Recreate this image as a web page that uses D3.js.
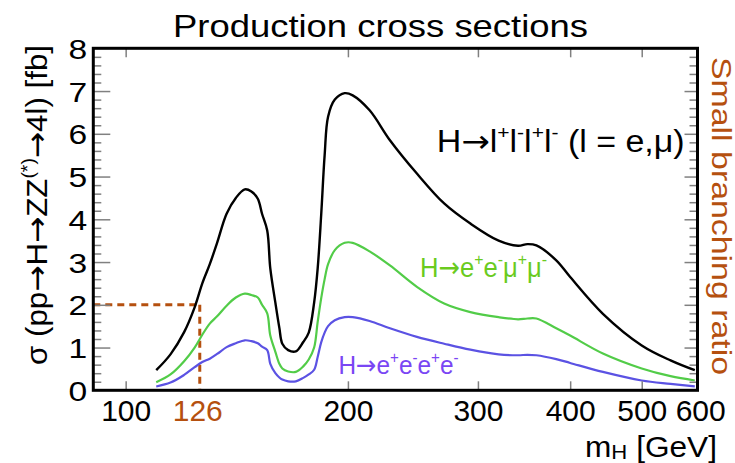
<!DOCTYPE html>
<html>
<head>
<meta charset="utf-8">
<script src="https://cdn.jsdelivr.net/npm/d3@7"></script>
<style>
  html, body { margin: 0; padding: 0; background: #fff; }
  svg { display: block; font-family: "Liberation Sans", Arial, Helvetica, sans-serif; }
</style>
</head>
<body>
<svg id="chart" width="735" height="463"></svg>
<script>
// Higgs boson mass grid [GeV]
const massGeV = [110, 115, 120, 124, 127, 130, 133, 137, 141, 145, 148, 151, 153, 155.5, 157,
  159.5, 161.5, 163, 166, 170, 174, 177, 180, 182, 184, 186, 188, 192, 198, 203, 214, 228,
  248, 270, 293, 320, 340, 350, 360, 383, 400, 443, 500, 547, 590];

// sigma(pp -> H -> ZZ(*) -> 4l) [fb], all four-lepton final states
const sigma4l = [0.47, 0.84, 1.36, 1.94, 2.50, 2.95, 3.45, 4.13, 4.50, 4.70, 4.65, 4.48, 4.13, 3.74, 2.85,
  2.05, 1.46, 1.09, 0.94, 0.91, 1.13, 1.35, 2.05, 2.85, 4.10, 5.50, 6.40, 6.80, 6.95, 6.90, 6.55, 5.85,
  5.07, 4.37, 3.90, 3.50, 3.38, 3.42, 3.39, 3.04, 2.65, 1.79, 1.05, 0.70, 0.47];

// H -> e+ e- mu+ mu-
const sigma2e2mu = [0.19, 0.37, 0.68, 1.00, 1.30, 1.56, 1.73, 1.98, 2.17, 2.26, 2.23, 2.17, 2.00, 1.80, 1.28,
  0.90, 0.62, 0.51, 0.44, 0.43, 0.56, 0.72, 1.00, 1.60, 2.15, 2.60, 2.95, 3.28, 3.45, 3.45, 3.25, 2.92,
  2.42, 2.03, 1.83, 1.71, 1.66, 1.68, 1.68, 1.45, 1.28, 0.86, 0.51, 0.33, 0.23];

// H -> e+ e- e+ e-
const sigma4e = [0.09, 0.18, 0.36, 0.54, 0.66, 0.74, 0.85, 1.01, 1.10, 1.17, 1.15, 1.10, 1.02, 0.94, 0.62,
  0.40, 0.30, 0.25, 0.21, 0.21, 0.29, 0.37, 0.48, 0.78, 1.12, 1.35, 1.50, 1.64, 1.71, 1.71, 1.62, 1.45,
  1.25, 1.09, 0.95, 0.84, 0.82, 0.83, 0.82, 0.73, 0.64, 0.43, 0.23, 0.15, 0.09];

const xTickValues = [100, 200, 300, 400, 500];
const xTickLabels = [100, 200, 300, 400, 500, 600];
const yMajorTicks = [0, 1, 2, 3, 4, 5, 6, 7, 8];
const yMinorTicks = d3.range(0, 8.001, 0.2).filter(v => Math.abs(v - Math.round(v)) > 1e-6);

const markedMass = 126;   // GeV
const markedSigma = 2.0;  // fb

const brown = "#b5500f";
const ARROW = "→";

const svg = d3.select("#chart");
const frame = { left: 93.3, right: 697.5, top: 48.3, bottom: 390.3 };

const x = d3.scaleLog().domain([90.4, 595]).range([frame.left, frame.right]);
const y = d3.scaleLinear().domain([0, 8]).range([frame.bottom, frame.top]);

// Text whose horizontal extent is set explicitly; arrows use a font with a full-size arrow glyph
function label(g, opts) {
  const t = g.append("text")
    .attr("font-size", opts.size)
    .attr("fill", opts.color || "#000")
    .attr("text-anchor", opts.anchor || "start")
    .attr("transform", `translate(${opts.x},${opts.y})` + (opts.rotate ? ` rotate(${opts.rotate})` : ""));
  if (opts.width) t.attr("textLength", opts.width).attr("lengthAdjust", "spacingAndGlyphs");
  let shift = 0;
  opts.parts.forEach(p => {
    const pieces = p.sup ? [p.t] : p.t.split(/(→)/).filter(s => s.length);
    pieces.forEach((txt, k) => {
      const s = t.append("tspan").text(txt);
      if (txt === ARROW) s.attr("font-family", "DejaVu Sans");
      if (p.sup) {
        const d = -opts.size * 0.42;
        s.attr("font-size", opts.size * 0.62).attr("dy", d - shift);
        shift = d;
      } else if (p.sub) {
        const d = opts.size * 0.08;
        s.attr("font-size", opts.size * 0.7).attr("dy", d - shift);
        shift = d;
      } else if (shift !== 0) {
        s.attr("dy", -shift);
        shift = 0;
      }
    });
  });
  return t;
}

// Dashed marker at the reference mass
const dash = svg.append("g")
  .attr("stroke", brown).attr("stroke-width", 3).attr("stroke-dasharray", "7,5").attr("fill", "none");
dash.append("line")
  .attr("x1", x(markedMass)).attr("x2", x(markedMass))
  .attr("y1", y(markedSigma)).attr("y2", y(0));
dash.append("line")
  .attr("x1", x.range()[0]).attr("x2", x(markedMass))
  .attr("y1", y(markedSigma)).attr("y2", y(markedSigma));

// Cross-section curves
const line = vals => d3.line()
  .x((d, i) => x(massGeV[i]))
  .y(d => y(d))
  .curve(d3.curveCatmullRom.alpha(0.5))(vals);

svg.append("path").attr("d", line(sigma4e))
  .attr("fill", "none").attr("stroke", "#5b52e3").attr("stroke-width", 2.2);
svg.append("path").attr("d", line(sigma2e2mu))
  .attr("fill", "none").attr("stroke", "#52cc48").attr("stroke-width", 2.2);
svg.append("path").attr("d", line(sigma4l))
  .attr("fill", "none").attr("stroke", "#000").attr("stroke-width", 2.4);

// Inward-pointing ticks on all four sides
function styleTicks(g) {
  g.select(".domain").remove();
  g.selectAll(".tick line").attr("stroke", "#808080").attr("stroke-width", 1.5);
  g.selectAll(".tick text").remove();
}
svg.append("g").attr("transform", `translate(${frame.left},0)`)
  .call(d3.axisLeft(y).tickValues(yMajorTicks.slice(1, -1)).tickSize(-17)).call(styleTicks);
svg.append("g").attr("transform", `translate(${frame.left},0)`)
  .call(d3.axisLeft(y).tickValues(yMinorTicks).tickSize(-8)).call(styleTicks);
svg.append("g").attr("transform", `translate(${frame.right},0)`)
  .call(d3.axisRight(y).tickValues(yMajorTicks.slice(1, -1)).tickSize(-13)).call(styleTicks);
svg.append("g").attr("transform", `translate(${frame.right},0)`)
  .call(d3.axisRight(y).tickValues(yMinorTicks).tickSize(-8)).call(styleTicks);
svg.append("g").attr("transform", `translate(0,${frame.bottom})`)
  .call(d3.axisBottom(x).tickValues(xTickValues).tickSize(-9)).call(styleTicks);
svg.append("g").attr("transform", `translate(0,${frame.top})`)
  .call(d3.axisTop(x).tickValues(xTickValues).tickSize(-9)).call(styleTicks);

// Frame
svg.append("rect")
  .attr("x", frame.left).attr("y", frame.top)
  .attr("width", frame.right - frame.left).attr("height", frame.bottom - frame.top)
  .attr("fill", "none").attr("stroke", "#000").attr("stroke-width", 3);

// Tick labels
const yLab = svg.append("g")
  .call(d3.axisLeft(y).tickValues(yMajorTicks).tickSize(0).tickPadding(0))
  .attr("transform", `translate(${frame.left - 6},0)`);
yLab.select(".domain").remove();
yLab.selectAll(".tick text")
  .attr("font-family", "Liberation Sans, Arial, sans-serif")
  .attr("font-size", 28).attr("fill", "#000")
  .attr("transform", "scale(1.2,1)").attr("dy", "0.36em");

const xLab = svg.append("g")
  .call(d3.axisBottom(x).tickValues(xTickLabels).tickSize(0).tickPadding(0).tickFormat(d3.format("d")))
  .attr("transform", `translate(0,${frame.bottom})`);
xLab.select(".domain").remove();
xLab.selectAll(".tick text")
  .attr("font-family", "Liberation Sans, Arial, sans-serif")
  .attr("font-size", 30).attr("fill", "#000")
  .attr("y", 31).attr("dy", 0);

label(svg, { x: x(markedMass) - 2, y: frame.bottom + 31, size: 30, anchor: "middle", color: brown,
  parts: [{ t: String(markedMass) }] });

// Titles
label(svg, { x: 380.5, y: 37, size: 32, anchor: "middle", width: 415,
  parts: [{ t: "Production cross sections" }] });

label(svg, { x: 585, y: 456.5, size: 30, width: 132,
  parts: [{ t: "m" }, { t: "H", sub: true }, { t: " [GeV]" }] });

label(svg, { x: 47, y: 205, size: 30, anchor: "middle", rotate: -90, width: 320,
  parts: [{ t: "σ (pp→H→ZZ" }, { t: "(*)", sup: true }, { t: "→4l) [fb]" }] });

label(svg, { x: 712, y: 216, size: 27, anchor: "middle", rotate: 90, width: 318, color: brown,
  parts: [{ t: "Small branching ratio" }] });

// Channel annotations
label(svg, { x: 436.7, y: 151.7, size: 31, width: 248,
  parts: [{ t: "H→l" }, { t: "+", sup: true }, { t: "l" }, { t: "-", sup: true }, { t: "l" },
          { t: "+", sup: true }, { t: "l" }, { t: "-", sup: true }, { t: " (l = e,μ)" }] });

label(svg, { x: 420, y: 276.7, size: 28, width: 127, color: "#6acb1e",
  parts: [{ t: "H→e" }, { t: "+", sup: true }, { t: "e" }, { t: "-", sup: true }, { t: "μ" },
          { t: "+", sup: true }, { t: "μ" }, { t: "-", sup: true }] });

label(svg, { x: 338.5, y: 373.5, size: 26, width: 120, color: "#7a46f4",
  parts: [{ t: "H→e" }, { t: "+", sup: true }, { t: "e" }, { t: "-", sup: true }, { t: "e" },
          { t: "+", sup: true }, { t: "e" }, { t: "-", sup: true }] });
</script>
</body>
</html>
